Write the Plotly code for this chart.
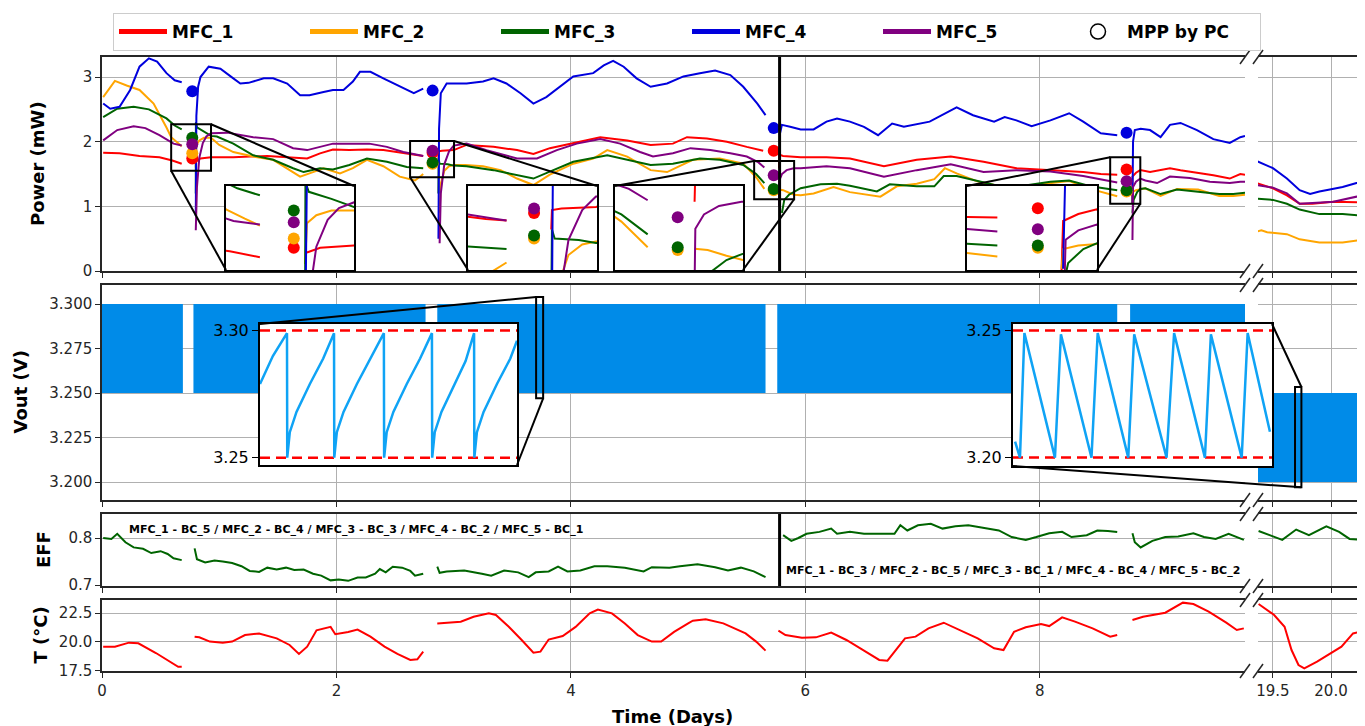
import plotly.graph_objects as go

# ======================= DATA =======================
# Power (mW) of each MFC, in days; None marks gaps in the record
mfc1_day = [0.01, 0.15, 0.32, 0.49, 0.60, 0.68, None,
            0.805, 0.84, 0.93, 1.12, 1.41, 1.60, 1.75, 1.86, 1.97, 2.11, 2.26, 2.40, 2.54, 2.68, 2.74, None,
            2.87, 2.872, 2.90, 3.00, 3.11, 3.34, 3.54, 3.68, 3.82, 4.02, 4.25, 4.48, 4.68, 4.87, 4.99, 5.16, 5.33, 5.50, 5.64, None,
            5.775, 5.777, 5.81, 5.96, 6.18, 6.38, 6.67, 6.95, 7.24, 7.52, 7.80, 8.09, 8.37, 8.52, 8.66, None,
            8.787, 8.79, 8.82, 8.857, 8.94, 9.11, 9.20, 9.35, 9.48, 9.62, 9.71, 9.75, None,
            19.36, 19.50, 19.62, 19.73, 19.84, 20.02, 20.30]
mfc1_mw = [1.83, 1.82, 1.78, 1.76, 1.71, 1.66, None,
           1.70, 1.74, 1.76, 1.76, 1.78, 1.76, 1.74, 1.82, 1.88, 1.87, 1.88, 1.87, 1.83, 1.79, 1.78, None,
           1.72, 1.85, 1.86, 1.87, 1.95, 1.92, 1.87, 1.81, 1.90, 1.98, 2.07, 2.02, 1.95, 1.97, 2.07, 2.05, 2.00, 1.92, 1.86, None,
           1.59, 1.80, 1.78, 1.76, 1.76, 1.74, 1.62, 1.72, 1.77, 1.69, 1.59, 1.56, 1.53, 1.50, 1.49, None,
           1.04, 1.46, 1.52, 1.56, 1.53, 1.59, 1.56, 1.52, 1.48, 1.43, 1.50, 1.49, None,
           1.36, 1.28, 1.17, 1.04, 1.04, 1.07, 1.06]

mfc2_day = [0.01, 0.11, 0.21, 0.32, 0.44, 0.50, 0.55, 0.59, 0.64, 0.68, None,
            0.80, 0.805, 0.83, 0.87, 0.93, 1.00, 1.12, 1.29, 1.46, 1.58, 1.69, 1.77, 1.89, 2.03, 2.14, 2.26, 2.40, 2.54, 2.67, 2.72, 2.74, None,
            2.88, 2.89, 2.92, 2.96, 3.00, 3.10, 3.25, 3.40, 3.54, 3.68, 3.82, 4.02, 4.19, 4.31, 4.48, 4.68, 4.82, 5.04, 5.27, 5.47, 5.58, 5.65, None,
            5.775, 5.81, 5.86, 5.904, 5.96, 6.07, 6.24, 6.38, 6.64, 6.78, 6.95, 7.10, 7.19, 7.29, 7.46, 7.66, 7.86, 8.09, 8.25, 8.43, 8.66, None,
            8.787, 8.79, 8.82, 8.857, 8.90, 9.03, 9.17, 9.35, 9.53, 9.65, 9.75, None,
            19.36, 19.40, 19.45, 19.50, 19.62, 19.73, 19.90, 20.10, 20.30]
mfc2_mw = [2.69, 2.94, 2.87, 2.80, 2.59, 2.40, 2.22, 2.07, 1.99, 1.93, None,
           1.60, 1.95, 2.02, 2.06, 2.06, 1.95, 1.84, 1.77, 1.72, 1.59, 1.46, 1.51, 1.59, 1.51, 1.59, 1.72, 1.62, 1.46, 1.40, 1.47, 1.50, None,
           0.90, 1.35, 1.55, 1.62, 1.64, 1.64, 1.62, 1.56, 1.43, 1.33, 1.49, 1.66, 1.74, 1.87, 1.77, 1.56, 1.53, 1.72, 1.74, 1.66, 1.45, 1.27, None,
           1.26, 1.25, 1.21, 1.18, 1.17, 1.20, 1.30, 1.22, 1.15, 1.31, 1.35, 1.42, 1.59, 1.51, 1.39, 1.31, 1.31, 1.36, 1.39, 1.27, 1.155, None,
           1.05, 1.22, 1.25, 1.26, 1.28, 1.16, 1.27, 1.26, 1.16, 1.16, 1.18, None,
           0.61, 0.63, 0.60, 0.59, 0.57, 0.49, 0.44, 0.44, 0.49]

mfc3_day = [0.01, 0.13, 0.27, 0.40, 0.55, 0.62, 0.68, None,
            0.80, 0.801, 0.81, 0.87, 0.93, 0.98, 1.12, 1.29, 1.46, 1.63, 1.72, 1.86, 1.97, 2.11, 2.26, 2.43, 2.60, 2.74, None,
            2.87, 2.872, 2.88, 2.95, 3.00, 3.11, 3.34, 3.54, 3.68, 3.85, 4.02, 4.31, 4.48, 4.68, 4.87, 5.10, 5.27, 5.47, 5.58, 5.65, None,
            5.80, 5.82, 5.86, 5.904, 5.96, 6.13, 6.27, 6.38, 6.61, 6.72, 6.95, 7.10, 7.18, 7.29, 7.46, 7.66, 7.86, 8.09, 8.25, 8.43, 8.66, None,
            8.79, 8.80, 8.83, 8.857, 8.90, 9.03, 9.17, 9.35, 9.53, 9.65, 9.75, None,
            19.36, 19.50, 19.62, 19.73, 19.90, 20.10, 20.30]
mfc3_mw = [2.38, 2.51, 2.54, 2.50, 2.36, 2.25, 2.19, None,
           1.20, 2.30, 2.22, 2.16, 2.09, 2.08, 1.97, 1.79, 1.72, 1.59, 1.53, 1.59, 1.57, 1.64, 1.74, 1.69, 1.61, 1.59, None,
           1.20, 1.72, 1.66, 1.65, 1.63, 1.62, 1.56, 1.48, 1.43, 1.56, 1.69, 1.79, 1.72, 1.64, 1.66, 1.74, 1.72, 1.64, 1.50, 1.36, None,
           0.90, 1.10, 1.18, 1.23, 1.28, 1.34, 1.35, 1.32, 1.23, 1.34, 1.31, 1.31, 1.47, 1.47, 1.40, 1.31, 1.32, 1.38, 1.40, 1.31, 1.25, None,
           0.90, 1.10, 1.22, 1.27, 1.28, 1.19, 1.26, 1.23, 1.19, 1.19, 1.21, None,
           1.12, 1.10, 1.04, 0.95, 0.88, 0.88, 0.85]

mfc4_day = [0.01, 0.07, 0.15, 0.24, 0.32, 0.40, 0.47, 0.55, 0.62, 0.68, None,
            0.80, 0.805, 0.82, 0.84, 0.91, 1.01, 1.12, 1.18, 1.25, 1.38, 1.46, 1.58, 1.69, 1.77, 1.89, 1.97, 2.06, 2.14, 2.20, 2.29, 2.40, 2.54, 2.66, 2.74, None,
            2.87, 2.875, 2.89, 2.94, 3.11, 3.25, 3.34, 3.45, 3.57, 3.68, 3.79, 3.91, 4.02, 4.19, 4.28, 4.36, 4.45, 4.56, 4.68, 4.82, 4.96, 5.10, 5.23, 5.36, 5.47, 5.59, 5.66, None,
            5.78, 5.80, 5.87, 5.96, 6.07, 6.18, 6.27, 6.38, 6.50, 6.62, 6.74, 6.84, 7.06, 7.21, 7.29, 7.43, 7.61, 7.70, 7.80, 7.93, 8.09, 8.25, 8.37, 8.52, 8.66, None,
            8.79, 8.795, 8.81, 8.86, 8.94, 9.03, 9.11, 9.20, 9.34, 9.48, 9.62, 9.71, 9.75, None,
            19.36, 19.50, 19.62, 19.73, 19.82, 19.90, 19.99, 20.10, 20.22, 20.30]
mfc4_mw = [2.59, 2.51, 2.54, 2.80, 3.16, 3.29, 3.24, 3.06, 2.95, 2.92, None,
           0.85, 2.40, 2.85, 3.00, 3.16, 3.13, 2.98, 2.90, 2.91, 2.98, 2.98, 2.90, 2.72, 2.72, 2.77, 2.80, 2.80, 2.93, 3.08, 3.08, 2.98, 2.85, 2.75, 2.82, None,
           0.50, 2.20, 2.75, 2.90, 2.90, 2.93, 2.98, 2.90, 2.75, 2.59, 2.69, 2.85, 3.01, 3.06, 3.18, 3.25, 3.16, 2.98, 2.85, 2.90, 3.01, 3.06, 3.10, 3.03, 2.85, 2.59, 2.41, None,
           2.10, 2.26, 2.23, 2.19, 2.19, 2.31, 2.36, 2.31, 2.23, 2.10, 2.28, 2.23, 2.31, 2.46, 2.53, 2.41, 2.31, 2.38, 2.33, 2.24, 2.33, 2.44, 2.31, 2.13, 2.10, None,
           1.05, 2.00, 2.18, 2.20, 2.18, 2.07, 2.26, 2.29, 2.18, 2.04, 1.98, 2.07, 2.09, None,
           1.70, 1.59, 1.43, 1.25, 1.19, 1.23, 1.26, 1.30, 1.36, 1.40]

mfc5_day = [0.01, 0.13, 0.27, 0.37, 0.49, 0.61, 0.68, None,
            0.80, 0.81, 0.83, 0.86, 0.89, 0.93, 1.07, 1.29, 1.46, 1.63, 1.75, 1.86, 1.97, 2.14, 2.28, 2.43, 2.57, 2.71, 2.74, None,
            2.88, 2.89, 2.92, 2.96, 3.00, 3.11, 3.28, 3.40, 3.54, 3.71, 3.88, 4.05, 4.25, 4.42, 4.59, 4.70, 4.87, 5.02, 5.19, 5.36, 5.50, 5.60, 5.65, None,
            5.775, 5.777, 5.80, 5.84, 5.90, 5.96, 6.18, 6.38, 6.67, 6.95, 7.24, 7.52, 7.80, 8.09, 8.37, 8.66, None,
            8.79, 8.795, 8.82, 8.857, 8.90, 9.00, 9.11, 9.28, 9.45, 9.62, 9.71, 9.75, None,
            19.36, 19.50, 19.62, 19.73, 19.84, 20.02, 20.22, 20.30]
mfc5_mw = [2.02, 2.18, 2.24, 2.21, 2.10, 1.97, 1.94, None,
           0.63, 1.30, 1.75, 1.98, 2.08, 2.13, 2.14, 2.07, 2.04, 1.90, 1.87, 1.92, 1.97, 1.97, 1.97, 1.92, 1.84, 1.79, 1.78, None,
           0.43, 1.20, 1.65, 1.85, 1.94, 1.97, 1.87, 1.81, 1.74, 1.74, 1.87, 1.97, 2.04, 1.97, 1.84, 1.77, 1.82, 1.90, 1.87, 1.82, 1.77, 1.68, 1.60, None,
           1.00, 1.40, 1.50, 1.56, 1.59, 1.59, 1.62, 1.59, 1.46, 1.56, 1.65, 1.53, 1.56, 1.54, 1.47, 1.37, None,
           0.48, 1.30, 1.38, 1.43, 1.40, 1.36, 1.46, 1.44, 1.38, 1.36, 1.38, 1.38, None,
           1.33, 1.29, 1.20, 1.04, 1.05, 1.07, 1.15, 1.10]

# Maximum power points measured by the PC during each interruption
mpp_day = [0.77, 2.82, 5.73, 8.74]
mpp_mfc1 = [1.74, 1.83, 1.86, 1.57]
mpp_mfc2 = [1.82, 1.66, 1.25, 1.23]
mpp_mfc3 = [2.06, 1.68, 1.27, 1.25]
mpp_mfc4 = [2.78, 2.79, 2.21, 2.14]
mpp_mfc5 = [1.96, 1.86, 1.48, 1.39]

# Output voltage band (regulated between low and high limits)
band_start = [0.0, 0.78, 2.86, 5.76, 8.77, 19.30]
band_end = [0.69, 2.76, 5.66, 8.66, 9.75, 20.40]
band_low = [3.25, 3.25, 3.25, 3.25, 3.25, 3.20]
band_high = [3.30, 3.30, 3.30, 3.30, 3.30, 3.25]

# Zoomed Vout sawtooth (relative time units 0-100) for the two zoom windows
zoomA_t = [0, 5, 10.5, 10.6, 11.6, 14.2, 19.4, 24.6, 28.8, 28.9, 29.9, 32.5, 37.7, 42.9, 48.2,
           48.3, 49.3, 51.9, 57.1, 62.3, 66.9, 67.0, 68.0, 70.6, 75.8, 80.0, 83.3, 83.4, 84.4, 87.0, 92.2, 97.4, 100]
zoomA_v = [3.279, 3.290, 3.299, 3.250, 3.260, 3.268, 3.279, 3.289, 3.299, 3.250, 3.260, 3.268, 3.279, 3.289, 3.299,
           3.250, 3.260, 3.268, 3.279, 3.289, 3.299, 3.250, 3.260, 3.268, 3.279, 3.288, 3.299, 3.250, 3.260, 3.268, 3.279, 3.289, 3.296]
zoomA_limits = [3.25, 3.30]
zoomB_t = [0.8, 2.7, 4.4, 16.2, 18.5, 30.3, 32.7, 44.5, 46.8, 59.3, 62.2, 74.1, 76.4, 88.3, 90.6, 99.2]
zoomB_v = [3.2063, 3.2000, 3.2490, 3.2000, 3.2485, 3.2000, 3.2490, 3.2000, 3.2485, 3.2000, 3.2490, 3.2000, 3.2485, 3.2000, 3.2490, 3.2102]
zoomB_limits = [3.20, 3.25]

# Conversion efficiency
eff_day = [0.01, 0.08, 0.13, 0.20, 0.27, 0.35, 0.42, 0.50, 0.56, 0.61, 0.68, None,
           0.79, 0.81, 0.88, 0.96, 1.03, 1.11, 1.19, 1.26, 1.34, 1.41, 1.49, 1.57, 1.64, 1.72, 1.80, 1.87, 1.95, 2.02, 2.10, 2.18, 2.25, 2.33, 2.37, 2.42, 2.48, 2.56, 2.63, 2.67, 2.74, None,
           2.86, 2.88, 2.94, 3.09, 3.24, 3.32, 3.43, 3.55, 3.64, 3.70, 3.81, 3.89, 3.97, 4.08, 4.20, 4.31, 4.46, 4.62, 4.69, 4.84, 4.93, 5.08, 5.23, 5.34, 5.45, 5.56, 5.66, None,
           5.81, 5.88, 5.94, 6.01, 6.12, 6.22, 6.27, 6.38, 6.50, 6.65, 6.76, 6.81, 6.87, 6.96, 7.07, 7.17, 7.28, 7.39, 7.54, 7.65, 7.76, 7.88, 7.97, 8.08, 8.19, 8.27, 8.40, 8.49, 8.58, 8.66, None,
           8.79, 8.81, 8.86, 8.96, 9.07, 9.18, 9.31, 9.40, 9.50, 9.61, 9.74, None,
           19.376, 19.47, 19.58, 19.70, 19.81, 19.96, 20.07, 20.16, 20.29]
eff_val = [0.800, 0.798, 0.809, 0.791, 0.780, 0.777, 0.768, 0.772, 0.766, 0.757, 0.753, None,
           0.778, 0.755, 0.748, 0.752, 0.750, 0.747, 0.740, 0.730, 0.728, 0.737, 0.733, 0.737, 0.732, 0.733, 0.724, 0.720, 0.710, 0.712, 0.709, 0.716, 0.716, 0.724, 0.734, 0.727, 0.739, 0.737, 0.730, 0.720, 0.724, None,
           0.739, 0.726, 0.729, 0.731, 0.724, 0.720, 0.731, 0.727, 0.717, 0.727, 0.729, 0.739, 0.729, 0.731, 0.740, 0.740, 0.737, 0.729, 0.738, 0.737, 0.740, 0.744, 0.738, 0.731, 0.737, 0.729, 0.717, None,
           0.806, 0.794, 0.800, 0.809, 0.813, 0.820, 0.809, 0.813, 0.809, 0.809, 0.809, 0.827, 0.816, 0.827, 0.830, 0.820, 0.825, 0.827, 0.820, 0.816, 0.802, 0.796, 0.802, 0.810, 0.813, 0.802, 0.806, 0.816, 0.815, 0.813, None,
           0.810, 0.791, 0.780, 0.794, 0.802, 0.803, 0.810, 0.802, 0.798, 0.809, 0.796, None,
           0.815, 0.806, 0.796, 0.818, 0.806, 0.825, 0.813, 0.798, 0.796]

# Temperature (deg C)
temp_day = [0.01, 0.11, 0.23, 0.31, 0.46, 0.58, 0.65, 0.68, None,
            0.79, 0.83, 0.92, 1.03, 1.11, 1.22, 1.34, 1.49, 1.60, 1.68, 1.75, 1.83, 1.95, 1.99, 2.10, 2.18, 2.29, 2.41, 2.52, 2.63, 2.69, 2.74, None,
            2.86, 2.94, 3.06, 3.17, 3.30, 3.36, 3.47, 3.58, 3.68, 3.74, 3.81, 3.93, 4.04, 4.16, 4.23, 4.35, 4.46, 4.57, 4.69, 4.77, 4.88, 5.00, 5.04, 5.15, 5.30, 5.49, 5.58, 5.66, None,
            5.77, 5.83, 5.97, 6.09, 6.22, 6.35, 6.50, 6.63, 6.70, 6.85, 6.94, 7.05, 7.18, 7.32, 7.47, 7.61, 7.69, 7.78, 7.88, 8.01, 8.08, 8.19, 8.30, 8.45, 8.60, 8.66, None,
            8.79, 8.88, 9.07, 9.22, 9.31, 9.44, 9.59, 9.68, 9.74, None,
            19.376, 19.51, 19.60, 19.66, 19.72, 19.77, 19.88, 20.00, 20.09, 20.19, 20.26, 20.29]
temp_val = [19.58, 19.58, 19.93, 19.87, 19.03, 18.28, 17.84, 17.84, None,
            20.45, 20.40, 20.02, 19.93, 20.02, 20.59, 20.73, 20.30, 19.73, 18.95, 19.58, 21.00, 21.30, 20.66, 20.86, 21.06, 20.45, 19.58, 18.95, 18.43, 18.49, 19.15, None,
            21.60, 21.66, 21.75, 22.18, 22.47, 22.33, 21.31, 20.16, 19.06, 19.15, 20.20, 20.51, 21.30, 22.47, 22.80, 22.47, 21.60, 20.59, 20.02, 20.02, 20.86, 21.60, 21.83, 21.95, 21.60, 20.73, 20.02, 19.24, None,
            20.97, 20.59, 20.36, 20.39, 20.80, 20.16, 19.24, 18.43, 18.37, 20.30, 20.45, 21.17, 21.66, 21.03, 20.30, 19.44, 19.29, 20.88, 21.26, 21.55, 21.37, 22.12, 21.75, 21.17, 20.45, 20.59, None,
            21.89, 22.18, 22.53, 23.40, 23.28, 22.62, 21.66, 21.03, 21.17, None,
            23.28, 22.33, 21.31, 19.29, 17.99, 17.70, 18.28, 19.00, 19.58, 20.73, 20.88, 20.60]

switch_day = 5.78
config_labels = ["MFC_1 - BC_5 / MFC_2 - BC_4 / MFC_3 - BC_3 / MFC_4 - BC_2 / MFC_5 - BC_1",
                 "MFC_1 - BC_3 / MFC_2 - BC_5 / MFC_3 - BC_1 / MFC_4 - BC_4 / MFC_5 - BC_2"]
series_names = ["MFC_1", "MFC_2", "MFC_3", "MFC_4", "MFC_5"]
mpp_name = "MPP by PC"

left_xticks = [0, 2, 4, 6, 8]
right_xticks = [19.5, 20.0]
power_ticks = [0, 1, 2, 3]
vout_ticks = [3.200, 3.225, 3.250, 3.275, 3.300]
eff_ticks = [0.7, 0.8]
temp_ticks = [17.5, 20.0, 22.5]

# ======================= STYLE / GEOMETRY =======================
# page body has an 8px margin: the figure is sized to fit inside the window and
# screen pixel positions are converted with that offset
OFF = 8
W, H = 1365 - OFF, 726 - OFF
FONT = "DejaVu Sans"
TXT = "#262626"
SPINE = "#262626"
GRID = "#b0b0b0"
COLORS = ["#ff0000", "#ffa500", "#006400", "#0000dd", "#800080"]
BAND = "#008be8"
SAW = "#0fa3f5"


def fx(px):
    return (px - OFF) / W


def fy(py):
    return 1 - (py - OFF) / H


LEFT = [fx(102), fx(1245)]
RIGHT = [fx(1258), 1.0]
XR_L = [0, 9.75]
XR_R = [19.371, 20.293]
ROWS = [  # (domain, range, ticks, tickformat)
    ([fy(271), fy(57)], [0, 3.31], power_ticks, None),
    ([fy(500), fy(285)], [3.1899, 3.3107], vout_ticks, ".3f"),
    ([fy(586), fy(514)], [0.698, 0.851], eff_ticks, ".1f"),
    ([fy(671), fy(600)], [17.47, 23.63], temp_ticks, ".1f"),
]

power_series = [(mfc1_day, mfc1_mw, mpp_mfc1), (mfc2_day, mfc2_mw, mpp_mfc2),
                (mfc3_day, mfc3_mw, mpp_mfc3), (mfc4_day, mfc4_mw, mpp_mfc4),
                (mfc5_day, mfc5_mw, mpp_mfc5)]

# Power inset boxes: paper domains + zoomed window (which is also the source rectangle)
p_insets = [
    dict(xd=[fx(226), fx(354)], yd=[fy(270), fy(186)], xr=[0.59, 0.93], yr=[1.55, 2.27], links=[("ll", "ll"), ("ur", "ur")]),
    dict(xd=[fx(468), fx(597)], yd=[fy(270), fy(186)], xr=[2.628, 3.003], yr=[1.45, 2.01], links=[("ll", "ll"), ("ur", "ur")]),
    dict(xd=[fx(615), fx(743)], yd=[fy(270), fy(186)], xr=[5.563, 5.904], yr=[1.11, 1.70], links=[("ul", "ul"), ("lr", "lr")]),
    dict(xd=[fx(967), fx(1097)], yd=[fy(270), fy(186)], xr=[8.60, 8.857], yr=[1.04, 1.76], links=[("ul", "ul"), ("lr", "lr")]),
]
# Vout inset boxes
v_insets = [
    dict(xd=[fx(260), fx(517)], yd=[fy(465), fy(324)], yr=[3.2471, 3.3026], t=zoomA_t, v=zoomA_v, lim=zoomA_limits,
         src=3, sx=[3.703, 3.763], sy=[3.247, 3.304], links=[("ul", "ul"), ("lr", "lr")]),
    dict(xd=[fx(1013), fx(1272)], yd=[fy(466), fy(324)], yr=[3.1967, 3.2526], t=zoomB_t, v=zoomB_v, lim=zoomB_limits,
         src=4, sx=[19.69, 19.745], sy=[3.197, 3.2534], links=[("ur", "ur"), ("ll", "lr")]),
]


def xname(i):
    return "xaxis" if i == 1 else f"xaxis{i}"


def yname(i):
    return "yaxis" if i == 1 else f"yaxis{i}"


def xr_(i):
    return "x" if i == 1 else f"x{i}"


def yr_(i):
    return "y" if i == 1 else f"y{i}"


def corner(xd, yd, c):
    return (xd[0] if c[1] == "l" else xd[1], yd[0] if c[0] == "l" else yd[1])


def to_paper(v, dom, rng):
    return dom[0] + (v - rng[0]) / (rng[1] - rng[0]) * (dom[1] - dom[0])


fig = go.Figure()
layout = dict(template="none", width=W, height=H, margin=dict(l=0, r=0, t=0, b=0, pad=0, autoexpand=False),
              plot_bgcolor="white", paper_bgcolor="white", barmode="overlay",
              font=dict(family=FONT, size=15, color=TXT), showlegend=True)

tickfont = dict(family=FONT, size=15, color=TXT)

# ---- main axes ----
for r, (dom, rng, ticks, fmt) in enumerate(ROWS):
    li, ri = 2 * r + 1, 2 * r + 2
    bottom = (r == len(ROWS) - 1)
    common_x = dict(showgrid=True, gridcolor=GRID, gridwidth=1, zeroline=False, showline=True,
                    linecolor=SPINE, linewidth=1.5, mirror=True, ticks="outside", ticklen=5,
                    tickcolor=SPINE, tickfont=tickfont, showticklabels=bottom, automargin=False)
    layout[xname(li)] = dict(common_x, domain=LEFT, range=XR_L, anchor=yr_(li), tickvals=left_xticks)
    layout[xname(ri)] = dict(common_x, domain=RIGHT, range=XR_R, anchor=yr_(ri), tickvals=right_xticks,
                             ticktext=[f"{v:.1f}" for v in right_xticks])
    layout[yname(li)] = dict(domain=dom, range=rng, anchor=xr_(li), tickvals=ticks, tickformat=fmt,
                             showgrid=True, gridcolor=GRID, gridwidth=1, zeroline=False, showline=True,
                             linecolor=SPINE, linewidth=1.5, ticks="outside", ticklen=5, tickcolor=SPINE,
                             tickfont=tickfont, automargin=False)
    layout[yname(ri)] = dict(domain=dom, range=rng, anchor=xr_(ri), tickvals=ticks, showgrid=True,
                             gridcolor=GRID, gridwidth=1, zeroline=False, showline=False,
                             showticklabels=False, ticks="", automargin=False)

# ---- inset axes ----
box_ax = dict(showgrid=False, zeroline=False, showline=True, mirror=True, linecolor="black",
              linewidth=2, ticks="", showticklabels=False, automargin=False)
for k, ins in enumerate(p_insets):
    i = 9 + k
    layout[xname(i)] = dict(box_ax, domain=ins["xd"], range=ins["xr"], anchor=yr_(i))
    layout[yname(i)] = dict(box_ax, domain=ins["yd"], range=ins["yr"], anchor=xr_(i))
for k, ins in enumerate(v_insets):
    i = 13 + k
    layout[xname(i)] = dict(box_ax, domain=ins["xd"], range=[0, 100], anchor=yr_(i))
    layout[yname(i)] = dict(box_ax, domain=ins["yd"], range=ins["yr"], anchor=xr_(i),
                            ticks="outside", ticklen=6, tickcolor="black", showticklabels=True,
                            tickvals=ins["lim"], tickformat=".2f",
                            tickfont=dict(family=FONT, size=16, color="black"))

# ---- power traces ----
power_axes = [1, 2] + [9 + k for k in range(len(p_insets))]
for (d, p, mpp), col in zip(power_series, COLORS):
    for i in power_axes:
        fig.add_trace(go.Scatter(x=d, y=p, mode="lines", line=dict(color=col, width=2),
                                 showlegend=False, hoverinfo="skip", xaxis=xr_(i), yaxis=yr_(i)))
for (d, p, mpp), col in zip(power_series, COLORS):
    for i in [1] + [9 + k for k in range(len(p_insets))]:
        fig.add_trace(go.Scatter(x=mpp_day, y=mpp, mode="markers", marker=dict(color=col, size=12),
                                 showlegend=False, hoverinfo="skip", xaxis=xr_(i), yaxis=yr_(i)))

# ---- legend entries ----
for name, col in zip(series_names, COLORS):
    fig.add_trace(go.Scatter(x=[None], y=[None], mode="lines", line=dict(color=col, width=5),
                             name=f"<b>{name}</b>", xaxis="x", yaxis="y"))
fig.add_trace(go.Scatter(x=[None], y=[None], mode="markers", name=f"<b>{mpp_name}</b>",
                         marker=dict(symbol="circle-open", color="black", size=15, line=dict(width=1.5)),
                         xaxis="x", yaxis="y"))

# ---- Vout band ----
for i in (3, 4):
    fig.add_trace(go.Bar(x=[(s + e) / 2 for s, e in zip(band_start, band_end)],
                         y=[h - l for l, h in zip(band_low, band_high)], base=band_low,
                         width=[e - s for s, e in zip(band_start, band_end)],
                         marker=dict(color=BAND, line=dict(width=0)), showlegend=False,
                         hoverinfo="skip", xaxis=xr_(i), yaxis=yr_(i)))

for k, ins in enumerate(v_insets):
    i = 13 + k
    for lv in ins["lim"]:
        fig.add_trace(go.Scatter(x=[0, 100], y=[lv, lv], mode="lines",
                                 line=dict(color="#ff0000", width=2.5, dash="10px,6px"),
                                 showlegend=False, hoverinfo="skip", xaxis=xr_(i), yaxis=yr_(i)))
    fig.add_trace(go.Scatter(x=ins["t"], y=ins["v"], mode="lines", line=dict(color=SAW, width=2.5),
                             showlegend=False, hoverinfo="skip", xaxis=xr_(i), yaxis=yr_(i)))

# ---- EFF and temperature ----
for i in (5, 6):
    fig.add_trace(go.Scatter(x=eff_day, y=eff_val, mode="lines", line=dict(color="#006400", width=2),
                             showlegend=False, hoverinfo="skip", xaxis=xr_(i), yaxis=yr_(i)))
for i in (7, 8):
    fig.add_trace(go.Scatter(x=temp_day, y=temp_val, mode="lines", line=dict(color="#ff0000", width=2),
                             showlegend=False, hoverinfo="skip", xaxis=xr_(i), yaxis=yr_(i)))

# ---- shapes ----
shapes = []
for i in (1, 5):
    shapes.append(dict(type="line", xref=xr_(i), yref=f"{yr_(i)} domain", x0=switch_day, x1=switch_day,
                       y0=0, y1=1, line=dict(color="black", width=3)))
pdom, prng = ROWS[0][0], ROWS[0][1]
for ins in p_insets:
    shapes.append(dict(type="rect", xref="x", yref="y", x0=ins["xr"][0], x1=ins["xr"][1],
                       y0=ins["yr"][0], y1=ins["yr"][1], line=dict(color="black", width=2)))
    sxd = [to_paper(v, LEFT, XR_L) for v in ins["xr"]]
    syd = [to_paper(v, pdom, prng) for v in ins["yr"]]
    for c_src, c_ins in ins["links"]:
        a = corner(sxd, syd, c_src)
        b = corner(ins["xd"], ins["yd"], c_ins)
        shapes.append(dict(type="line", xref="paper", yref="paper", x0=a[0], y0=a[1], x1=b[0], y1=b[1],
                           line=dict(color="black", width=2)))
vdom, vrng = ROWS[1][0], ROWS[1][1]
for ins in v_insets:
    i = ins["src"]
    shapes.append(dict(type="rect", xref=xr_(i), yref=yr_(i), x0=ins["sx"][0], x1=ins["sx"][1],
                       y0=ins["sy"][0], y1=ins["sy"][1], line=dict(color="black", width=2)))
    xdom, xrng = (LEFT, XR_L) if i == 3 else (RIGHT, XR_R)
    sxd = [to_paper(v, xdom, xrng) for v in ins["sx"]]
    syd = [to_paper(v, vdom, vrng) for v in ins["sy"]]
    for c_ins, c_src in ins["links"]:
        a = corner(ins["xd"], ins["yd"], c_ins)
        b = corner(sxd, syd, c_src)
        shapes.append(dict(type="line", xref="paper", yref="paper", x0=a[0], y0=a[1], x1=b[0], y1=b[1],
                           line=dict(color="black", width=2)))
# axis-break marks
for dom, _, _, _ in ROWS:
    for yy in dom:
        for cx in (LEFT[1], RIGHT[0]):
            shapes.append(dict(type="line", xref="paper", yref="paper", x0=cx - 5 / W, x1=cx + 5 / W,
                               y0=yy - 7 / H, y1=yy + 7 / H, line=dict(color=SPINE, width=1.5)))
layout["shapes"] = shapes

# ---- annotations ----
ttl = dict(family=FONT, size=18, color="black", weight="bold")
ann = [
    dict(text="Power (mW)", x=fx(37), y=sum(ROWS[0][0]) / 2, textangle=-90),
    dict(text="Vout (V)", x=fx(20), y=sum(ROWS[1][0]) / 2, textangle=-90),
    dict(text="EFF", x=fx(43), y=sum(ROWS[2][0]) / 2, textangle=-90),
    dict(text="T (°C)", x=fx(40), y=sum(ROWS[3][0]) / 2, textangle=-90),
    dict(text="Time (Days)", x=fx(672), y=fy(716), textangle=0),
]
annotations = [dict(a, xref="paper", yref="paper", showarrow=False, xanchor="center", yanchor="middle",
                    font=ttl) for a in ann]
small = dict(family=FONT, size=11, color="black", weight="bold")
annotations.append(dict(text=config_labels[0], xref="x5", yref="y5", x=0.21, y=0.819, xanchor="left",
                        yanchor="middle", showarrow=False, font=small))
annotations.append(dict(text=config_labels[1], xref="x5", yref="y5", x=5.82, y=0.730, xanchor="left",
                        yanchor="middle", showarrow=False, font=small))
layout["annotations"] = annotations

layout["legend"] = dict(orientation="h", x=fx(113), y=fy(13), xanchor="left", yanchor="top",
                        entrywidth=128, entrywidthmode="pixels", itemwidth=48,
                        bordercolor="#cccccc", borderwidth=1, bgcolor="white",
                        font=dict(family=FONT, size=17, color="black"))

fig.update_layout(**layout)
fig.write_html("out.html")
